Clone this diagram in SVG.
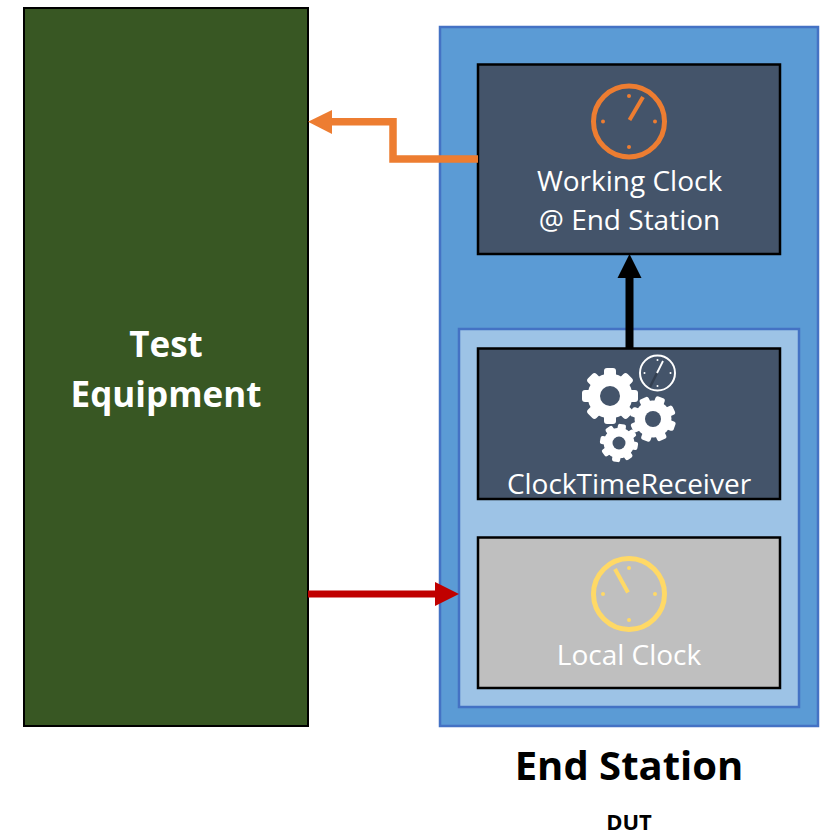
<svg xmlns="http://www.w3.org/2000/svg" width="823" height="832" viewBox="0 0 823 832">
<style>
text{font-family:"Open Sans","Liberation Sans",sans-serif;text-anchor:middle;fill:#fff}
.b{font-weight:700}
.box{stroke:#000;stroke-width:2.5}
.dark{fill:#44546A}
.cont{stroke:#4472C4;stroke-width:2.5}
.lbl{font-size:28px}
</style>
<defs>
<g id="gear" fill="#fff">
<circle r="22.500"/>
<rect id="t" x="-6" y="-28" width="12" height="12" rx="3"/>
<use href="#t" transform="rotate(45)"/><use href="#t" transform="rotate(90)"/><use href="#t" transform="rotate(135)"/><use href="#t" transform="rotate(180)"/><use href="#t" transform="rotate(225)"/><use href="#t" transform="rotate(270)"/><use href="#t" transform="rotate(315)"/>
</g>
</defs>
<rect width="823" height="832" fill="#fff"/>
<g id="test-equipment">
<rect x="24" y="8" width="284" height="718" fill="#385723" stroke="#000" stroke-width="2"/>
<text class="b" x="166" y="356.500" font-size="35">Test</text>
<text class="b" x="166" y="406.500" font-size="35">Equipment</text>
</g>
<g id="end-station">
<rect class="cont" x="440" y="27" width="378" height="699" fill="#5B9BD5"/>
<text class="b" x="629" y="780" font-size="40" style="fill:#000">End Station</text>
<text class="b" x="629" y="830" font-size="22" style="fill:#000">DUT</text>
</g>
<g id="inner-container">
<rect class="cont" x="459" y="329" width="340" height="378" fill="#9DC3E6"/>
</g>
<g id="working-clock">
<rect class="box dark" x="478" y="64.500" width="302" height="189.500"/>
<g fill="#ED7D31">
<circle cx="629" cy="121.500" r="35.500" fill="none" stroke="#ED7D31" stroke-width="5"/>
<circle cx="629" cy="96" r="2"/><circle cx="629" cy="147" r="2"/><circle cx="603" cy="121.500" r="2"/><circle cx="655" cy="121.500" r="2"/>
<path d="M629.500 120L643 97" stroke="#ED7D31" stroke-width="4" fill="none"/>
</g>
<text class="lbl" x="629.500" y="191">Working Clock</text>
<text class="lbl" x="629.500" y="230">@ End Station</text>
</g>
<g id="clock-time-receiver">
<rect class="box dark" x="478" y="348.500" width="302" height="150.500"/>
<use href="#gear" transform="translate(610 396)"/>
<circle cx="610" cy="396" r="10" class="dark"/>
<use href="#gear" transform="translate(653 419) rotate(20) scale(.82)"/>
<circle cx="653" cy="419" r="8" class="dark"/>
<use href="#gear" transform="translate(619 443) rotate(10) scale(.68)"/>
<circle cx="619" cy="443" r="6.500" class="dark"/>
<circle cx="657.500" cy="373" r="17.500" fill="#44546A" stroke="#fff" stroke-width="2"/>
<path d="M657 373L650 387" stroke="#333F50" stroke-width="2.500" fill="none"/>
<path d="M657 373L663 361" stroke="#fff" stroke-width="1.800" fill="none"/>
<g fill="#fff"><circle cx="657.500" cy="360" r="1"/><circle cx="657.500" cy="386" r="1"/><circle cx="644.500" cy="373" r="1"/><circle cx="670.500" cy="373" r="1"/></g>
<text class="lbl" x="629" y="494">ClockTimeReceiver</text>
</g>
<g id="local-clock">
<rect class="box" x="478" y="537.500" width="302" height="150.500" fill="#BFBFBF"/>
<g fill="#FFD966">
<circle cx="629" cy="594" r="35.500" fill="none" stroke="#FFD966" stroke-width="5"/>
<circle cx="629" cy="568" r="2"/><circle cx="629" cy="620" r="2"/><circle cx="603" cy="594" r="2"/><circle cx="655" cy="594" r="2"/>
<path d="M628 592.500L615 569" stroke="#FFD966" stroke-width="4" fill="none"/>
</g>
<text class="lbl" x="629" y="665">Local Clock</text>
</g>
<g id="connectors" fill="none">
<path d="M478 159H393V121.700H331" stroke="#ED7D31" stroke-width="7.500"/>
<path d="M308 121.700L332 110V134Z" fill="#ED7D31"/>
<path d="M629.500 348V277" stroke="#000" stroke-width="8"/>
<path d="M629.500 254L641.500 278H617.500Z" fill="#000"/>
<path d="M308 594H437" stroke="#C00000" stroke-width="7"/>
<path d="M459 594L435 582V606Z" fill="#C00000"/>
</g>
</svg>
